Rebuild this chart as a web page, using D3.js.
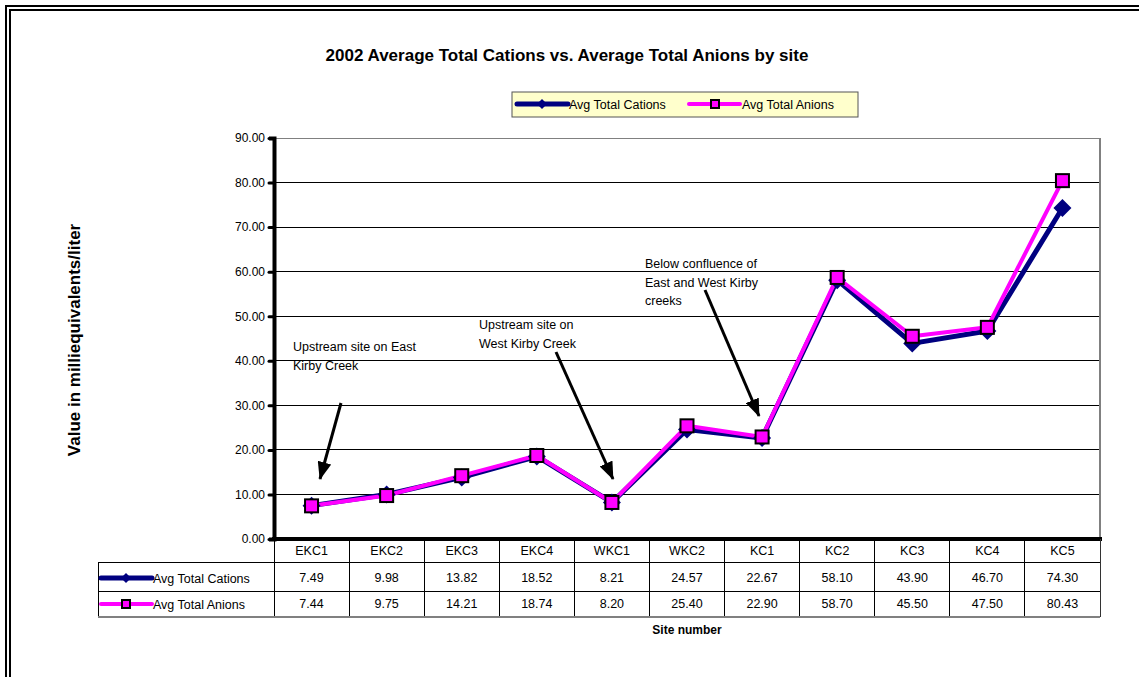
<!DOCTYPE html>
<html>
<head>
<meta charset="utf-8">
<script src="https://cdn.jsdelivr.net/npm/d3@7"></script>
<style>
  html, body { margin: 0; padding: 0; background: #fff; }
  svg { display: block; font-family: "Liberation Sans", Arial, sans-serif; }
</style>
</head>
<body>
<script>
// Site data: average total cations and anions (meq/L), 2002
const sites = ["EKC1", "EKC2", "EKC3", "EKC4", "WKC1", "WKC2", "KC1", "KC2", "KC3", "KC4", "KC5"];
const cations = [7.49, 9.98, 13.82, 18.52, 8.21, 24.57, 22.67, 58.10, 43.90, 46.70, 74.30];
const anions = [7.44, 9.75, 14.21, 18.74, 8.20, 25.40, 22.90, 58.70, 45.50, 47.50, 80.43];
const yTicks = [0, 10, 20, 30, 40, 50, 60, 70, 80, 90];
const seriesNames = ["Avg Total Cations", "Avg Total Anions"];

const W = 1139, H = 677;
const svg = d3.select("body").append("svg").attr("width", W).attr("height", H);

// Double frame around the chart
svg.append("rect").attr("x", 6).attr("y", 6).attr("width", W + 20).attr("height", H + 20)
  .attr("fill", "none").attr("stroke", "#000").attr("stroke-width", 2);
svg.append("rect").attr("x", 10).attr("y", 10).attr("width", W + 20).attr("height", H + 20)
  .attr("fill", "none").attr("stroke", "#000").attr("stroke-width", 2);

const plot = { left: 274, right: 1100, top: 138, bottom: 539 };
const x = d3.scaleBand().domain(sites).range([plot.left, plot.right]);
const y = d3.scaleLinear().domain([0, 90]).range([plot.bottom, plot.top]);
const cx = d => x(d) + x.bandwidth() / 2;

// Title
svg.append("text").attr("x", 567).attr("y", 61).attr("text-anchor", "middle")
  .attr("font-size", 17).attr("font-weight", "bold")
  .text("2002 Average Total Cations vs. Average Total Anions by site");

// Gridlines
svg.append("g").selectAll("line").data(yTicks.filter(t => t > 0)).join("line")
  .attr("x1", plot.left).attr("x2", plot.right)
  .attr("y1", d => y(d)).attr("y2", d => y(d))
  .attr("stroke", d => d === 90 ? "#808080" : "#000").attr("stroke-width", 1)
  .attr("shape-rendering", "crispEdges");

// Right plot border (gray)
svg.append("line").attr("x1", plot.right).attr("x2", plot.right)
  .attr("y1", plot.top).attr("y2", plot.bottom)
  .attr("stroke", "#808080").attr("stroke-width", 2);

// Y axis
const yAxis = d3.axisLeft(y).tickValues(yTicks).tickFormat(d3.format(".2f")).tickSize(5).tickPadding(4);
const gy = svg.append("g").attr("transform", `translate(${plot.left},0)`).call(yAxis);
gy.select(".domain").attr("stroke", "#000").attr("stroke-width", 4);
gy.selectAll(".tick line").attr("stroke", "#000").attr("stroke-width", 3).attr("stroke-linecap", "round");
gy.selectAll(".tick text").attr("font-size", 12).attr("fill", "#000")
  .attr("font-family", "Liberation Sans, Arial, sans-serif");

// X axis baseline
svg.append("line").attr("x1", plot.left - 2).attr("x2", plot.right + 2)
  .attr("y1", plot.bottom).attr("y2", plot.bottom)
  .attr("stroke", "#000").attr("stroke-width", 4);

// Y axis title
svg.append("text").attr("transform", "translate(80,340) rotate(-90)")
  .attr("text-anchor", "middle").attr("font-size", 17).attr("font-weight", "bold")
  .text("Value in milliequivalents/liter");

// Lines
const line = d3.line().x((d, i) => cx(sites[i])).y(d => y(d));
svg.append("path").datum(cations).attr("d", line).attr("fill", "none")
  .attr("stroke", "#000080").attr("stroke-width", 5).attr("stroke-linejoin", "round");
svg.append("path").datum(anions).attr("d", line).attr("fill", "none")
  .attr("stroke", "#ff00ff").attr("stroke-width", 4).attr("stroke-linejoin", "round");

// Markers
const diamond = (g, px, py, r) => g.append("path")
  .attr("d", `M${px},${py - r}L${px + r},${py}L${px},${py + r}L${px - r},${py}Z`)
  .attr("fill", "#000080");
const square = (g, px, py, s) => g.append("rect")
  .attr("x", px - s / 2).attr("y", py - s / 2).attr("width", s).attr("height", s)
  .attr("fill", "#ff00ff").attr("stroke", "#000").attr("stroke-width", 2);

const mk = svg.append("g");
cations.forEach((v, i) => diamond(mk, cx(sites[i]), y(v), 9));
anions.forEach((v, i) => square(mk, cx(sites[i]), y(v), 13));

// Legend box
const lg = svg.append("g");
lg.append("rect").attr("x", 512).attr("y", 92).attr("width", 346).attr("height", 25)
  .attr("fill", "#ffffcc").attr("stroke", "#555").attr("stroke-width", 1);
lg.append("line").attr("x1", 517).attr("x2", 568).attr("y1", 104).attr("y2", 104)
  .attr("stroke", "#000080").attr("stroke-width", 5).attr("stroke-linecap", "round");
diamond(lg, 542, 104, 5);
lg.append("text").attr("x", 569).attr("y", 109).attr("font-size", 12.5).text(seriesNames[0]);
lg.append("line").attr("x1", 689).attr("x2", 740).attr("y1", 104).attr("y2", 104)
  .attr("stroke", "#ff00ff").attr("stroke-width", 4).attr("stroke-linecap", "round");
square(lg, 715, 104, 8);
lg.append("text").attr("x", 742).attr("y", 109).attr("font-size", 12.5).text(seriesNames[1]);

// Data table under the axis
const tb = svg.append("g");
const rowY = [plot.bottom, 562, 591, 617];
const tableLeft = 98;
// column dividers
const colEdges = sites.map(s => x(s)).concat([plot.right]);
colEdges.forEach((cxv, i) => {
  tb.append("line").attr("x1", cxv).attr("x2", cxv).attr("y1", plot.bottom).attr("y2", rowY[3])
    .attr("stroke", i === colEdges.length - 1 ? "#333" : "#000").attr("stroke-width", 1)
    .attr("shape-rendering", "crispEdges");
});
tb.append("line").attr("x1", tableLeft).attr("x2", tableLeft).attr("y1", rowY[1]).attr("y2", rowY[3])
  .attr("stroke", "#000").attr("shape-rendering", "crispEdges");
tb.append("line").attr("x1", tableLeft).attr("x2", plot.right).attr("y1", rowY[1]).attr("y2", rowY[1])
  .attr("stroke", "#000").attr("shape-rendering", "crispEdges");
tb.append("line").attr("x1", tableLeft).attr("x2", plot.right).attr("y1", rowY[2]).attr("y2", rowY[2])
  .attr("stroke", "#000").attr("shape-rendering", "crispEdges");
tb.append("line").attr("x1", tableLeft).attr("x2", plot.right).attr("y1", rowY[3]).attr("y2", rowY[3])
  .attr("stroke", "#808080").attr("stroke-width", 2).attr("shape-rendering", "crispEdges");

// header row: site names
tb.selectAll("text.site").data(sites).join("text").attr("class", "site")
  .attr("x", d => cx(d)).attr("y", 555).attr("text-anchor", "middle").attr("font-size", 12.5)
  .text(d => d);
const fmt = d3.format(".2f");
tb.selectAll("text.cat").data(cations).join("text").attr("class", "cat")
  .attr("x", (d, i) => cx(sites[i])).attr("y", 582).attr("text-anchor", "middle").attr("font-size", 12.5)
  .text(fmt);
tb.selectAll("text.an").data(anions).join("text").attr("class", "an")
  .attr("x", (d, i) => cx(sites[i])).attr("y", 608).attr("text-anchor", "middle").attr("font-size", 12.5)
  .text(fmt);

// legend keys inside the table
tb.append("line").attr("x1", 101).attr("x2", 152).attr("y1", 578).attr("y2", 578)
  .attr("stroke", "#000080").attr("stroke-width", 5).attr("stroke-linecap", "round");
diamond(tb, 126, 578, 5);
tb.append("text").attr("x", 153).attr("y", 583).attr("font-size", 12.5).text(seriesNames[0]);
tb.append("line").attr("x1", 101).attr("x2", 152).attr("y1", 604).attr("y2", 604)
  .attr("stroke", "#ff00ff").attr("stroke-width", 4).attr("stroke-linecap", "round");
square(tb, 126, 604, 8);
tb.append("text").attr("x", 153).attr("y", 609).attr("font-size", 12.5).text(seriesNames[1]);

// X axis title
svg.append("text").attr("x", 687).attr("y", 634).attr("text-anchor", "middle")
  .attr("font-size", 12).attr("font-weight", "bold").text("Site number");

// Annotations with arrows
const defs = svg.append("defs");
defs.append("marker").attr("id", "arrowhead").attr("viewBox", "0 0 18 14")
  .attr("refX", 17).attr("refY", 7).attr("markerWidth", 18).attr("markerHeight", 14)
  .attr("markerUnits", "userSpaceOnUse").attr("orient", "auto")
  .append("path").attr("d", "M0,0L18,7L0,14Z").attr("fill", "#000");

const notes = [
  { lines: ["Upstream site on East", "Kirby Creek"], tx: 293, ty: 351, from: [341, 403], to: [320, 479] },
  { lines: ["Upstream site on", "West Kirby Creek"], tx: 479, ty: 329, from: [556, 352], to: [613, 479] },
  { lines: ["Below confluence of", "East and West Kirby", "creeks"], tx: 645, ty: 268, from: [705, 290], to: [759, 416] }
];
const an = svg.append("g");
notes.forEach(n => {
  const t = an.append("text").attr("x", n.tx).attr("y", n.ty).attr("font-size", 12.5);
  n.lines.forEach((l, i) => t.append("tspan").attr("x", n.tx).attr("dy", i === 0 ? 0 : 18.5).text(l));
  an.append("line").attr("x1", n.from[0]).attr("y1", n.from[1]).attr("x2", n.to[0]).attr("y2", n.to[1])
    .attr("stroke", "#000").attr("stroke-width", 3).attr("marker-end", "url(#arrowhead)");
});
</script>
</body>
</html>
